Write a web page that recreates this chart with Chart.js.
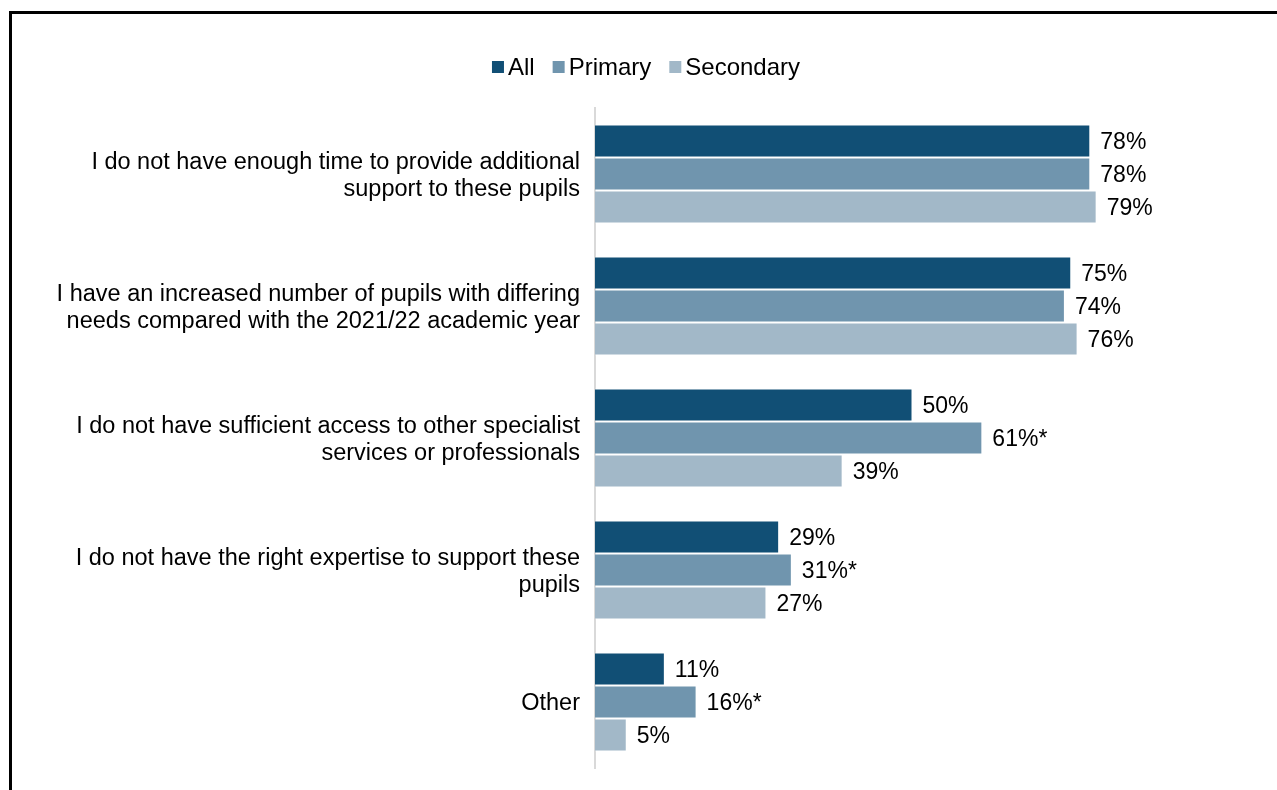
<!DOCTYPE html>
<html>
<head>
<meta charset="utf-8">
<script src="https://cdn.jsdelivr.net/npm/chart.js@4.4.1/dist/chart.umd.min.js"></script>
<style>
    body { margin: 0; background: #fff; }
    .wrap { position: relative; width: 1277px; height: 790px; overflow: hidden; }
    .frame { position: absolute; left: 9px; top: 11px; right: 0; bottom: 0;
             border-top: 3px solid #000; border-left: 3px solid #000; pointer-events: none; }
    canvas { position: absolute; left: 0; top: 0; }
</style>
</head>
<body>
<div class="wrap">
    <canvas id="reasons" width="1277" height="790"></canvas>
    <div class="frame"></div>
</div>
<script>
// Reasons categories (multi-line labels)
const categories = [
    ['I do not have enough time to provide additional', 'support to these pupils'],
    ['I have an increased number of pupils with differing', 'needs compared with the 2021/22 academic year'],
    ['I do not have sufficient access to other specialist', 'services or professionals'],
    ['I do not have the right expertise to support these', 'pupils'],
    'Other'
];

// Percentages by phase
const allValues = [78, 75, 50, 29, 11];
const primaryValues = [78, 74, 61, 31, 16];
const secondaryValues = [79, 76, 39, 27, 5];

// '*' marks a significant difference from secondary
const primaryStars = [false, false, true, true, true];

const seriesNames = ['All', 'Primary', 'Secondary'];
const seriesColors = ['#114F75', '#7095AE', '#A2B8C8'];

const FONT = 'Arial, "Liberation Sans", sans-serif';
const LABEL_SIZE = 23.5;
const VALUE_SIZE = 23;

// Value labels at the end of each bar
const valueLabels = {
    id: 'valueLabels',
    afterDatasetsDraw(chart) {
        const ctx = chart.ctx;
        ctx.save();
        ctx.font = VALUE_SIZE + 'px ' + FONT;
        ctx.fillStyle = '#000';
        ctx.textAlign = 'left';
        ctx.textBaseline = 'middle';
        chart.data.datasets.forEach((ds, di) => {
            chart.getDatasetMeta(di).data.forEach((bar, i) => {
                let txt = ds.data[i] + '%';
                if (ds.stars && ds.stars[i]) txt += '*';
                ctx.fillText(txt, bar.x + 10, bar.y + 2);
            });
        });
        ctx.restore();
    }
};

// Legend row above the plot
const legendRow = {
    id: 'legendRow',
    afterDraw(chart) {
        const ctx = chart.ctx;
        ctx.save();
        ctx.font = '24px ' + FONT;
        ctx.textBaseline = 'middle';
        const box = 12, gapText = 4, gapItem = 18;
        const widths = seriesNames.map(n => ctx.measureText(n).width);
        let total = widths.reduce((a, w) => a + box + gapText + w, 0) + gapItem * (seriesNames.length - 1);
        let x = 646 - total / 2;
        const y = 67;
        seriesNames.forEach((n, i) => {
            ctx.fillStyle = seriesColors[i];
            ctx.fillRect(x, y - 6, box, box);
            ctx.fillStyle = '#000';
            ctx.fillText(n, x + box + gapText, y + 1);
            x += box + gapText + widths[i] + gapItem;
        });
        ctx.restore();
    }
};

new Chart(document.getElementById('reasons'), {
    type: 'bar',
    data: {
        labels: categories,
        datasets: [
            { label: 'All', data: allValues, backgroundColor: seriesColors[0] },
            { label: 'Primary', data: primaryValues, backgroundColor: seriesColors[1], stars: primaryStars },
            { label: 'Secondary', data: secondaryValues, backgroundColor: seriesColors[2] }
        ]
    },
    options: {
        indexAxis: 'y',
        responsive: false,
        animation: false,
        layout: { padding: { top: 108, bottom: 22, right: 47, left: 0 } },
        datasets: {
            bar: {
                categoryPercentage: 0.75,
                barPercentage: 1,
                borderWidth: 1,
                borderColor: 'rgba(255,255,255,0.5)'
            }
        },
        plugins: {
            legend: { display: false },
            tooltip: { enabled: false }
        },
        scales: {
            x: {
                display: false,
                min: 0,
                max: 100
            },
            y: {
                afterFit(scale) {
                    scale.width = 595;
                    scale.paddingTop = 0;
                    scale.paddingBottom = 0;
                },
                grid: { display: false, drawTicks: false },
                border: { display: true, color: '#d9d9d9', width: 2 },
                ticks: {
                    color: '#000',
                    padding: 15,
                    labelOffset: 2,
                    font: { size: LABEL_SIZE, family: FONT, lineHeight: 1.15 }
                }
            }
        }
    },
    plugins: [valueLabels, legendRow]
});
</script>
</body>
</html>
